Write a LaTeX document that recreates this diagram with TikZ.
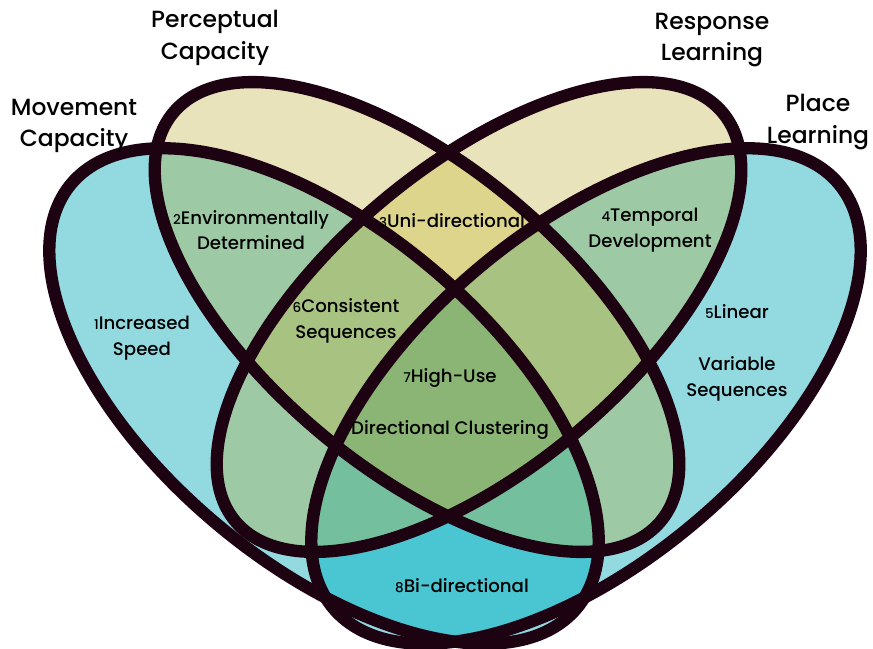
\documentclass[tikz,border=0pt]{standalone}
\usepackage{fontspec}
\setmainfont{Poppins}[UprightFont=* Medium]

\definecolor{edge}{HTML}{1D0212}
\definecolor{blueonly}{HTML}{93D9E0}
\definecolor{yellowonly}{HTML}{E8E3BB}
\definecolor{sage}{HTML}{9DCAA4}
\definecolor{uniyellow}{HTML}{DED58C}
\definecolor{consgreen}{HTML}{A8C282}
\definecolor{coregreen}{HTML}{8BB574}
\definecolor{bidir}{HTML}{4AC6D2}
\definecolor{tealgreen}{HTML}{74BF9D}

% the four ellipses (pixel units, y downwards)
\newcommand\ovalA[1][]{\path[#1,rotate around={-40:(324,396)}] (324,396) ellipse [x radius=330,y radius=167];}
\newcommand\ovalB[1][]{\path[#1,rotate around={-40:(417,317)}] (417,317) ellipse [x radius=318,y radius=151];}
\newcommand\ovalC[1][]{\path[#1,rotate around={40:(479,317)}] (479,317) ellipse [x radius=318,y radius=151];}
\newcommand\ovalD[1][]{\path[#1,rotate around={40:(586,396)}] (586,396) ellipse [x radius=330,y radius=167];}
\newcommand\rnum[1]{{\fontsize{11.5}{11.5}\selectfont #1}}

\begin{document}
\begin{tikzpicture}[x=0.03cm,y=-0.03cm,every text node part/.style={align=center},
    setname/.style={font=\fontsize{20}{27}\selectfont},
    zone/.style={font=\fontsize{15.5}{22}\selectfont}]
    \useasboundingbox (0,0) rectangle (873,649);

    % --------------------------------------------------------- %
    % ------------- single sets
    % --------------------------------------------------------- %
    \ovalA[fill=blueonly]
    \ovalD[fill=blueonly]
    \ovalB[fill=yellowonly]
    \ovalC[fill=yellowonly]

    % --------------------------------------------------------- %
    % ------------- pairs
    % --------------------------------------------------------- %
    \begin{scope} \ovalA[clip] \ovalB[fill=sage] \end{scope}
    \begin{scope} \ovalA[clip] \ovalC[fill=sage] \end{scope}
    \begin{scope} \ovalD[clip] \ovalB[fill=sage] \end{scope}
    \begin{scope} \ovalD[clip] \ovalC[fill=sage] \end{scope}
    \begin{scope} \ovalB[clip] \ovalC[fill=uniyellow] \end{scope}
    \begin{scope} \ovalA[clip] \ovalD[fill=bidir] \end{scope}

    % --------------------------------------------------------- %
    % ------------- triples and all four
    % --------------------------------------------------------- %
    \begin{scope} \ovalA[clip] \ovalB[clip] \ovalC[fill=consgreen] \end{scope}
    \begin{scope} \ovalB[clip] \ovalC[clip] \ovalD[fill=consgreen] \end{scope}
    \begin{scope} \ovalA[clip] \ovalB[clip] \ovalD[fill=tealgreen] \end{scope}
    \begin{scope} \ovalA[clip] \ovalC[clip] \ovalD[fill=tealgreen] \end{scope}
    \begin{scope} \ovalA[clip] \ovalB[clip] \ovalC[clip] \ovalD[fill=coregreen] \end{scope}

    % --------------------------------------------------------- %
    % ------------- outlines
    % --------------------------------------------------------- %
    \ovalA[draw=edge,line width=0.37cm]
    \ovalB[draw=edge,line width=0.37cm]
    \ovalC[draw=edge,line width=0.37cm]
    \ovalD[draw=edge,line width=0.37cm]

    % --------------------------------------------------------- %
    % ------------- set names
    % --------------------------------------------------------- %
    \node[setname] (movement) at (74,126) {Movement\\Capacity};
    \node[setname] (perceptual) at (215,38) {Perceptual\\Capacity};
    \node[setname] (response) at (712,40) {Response\\Learning};
    \node[setname] (place) at (818,122) {Place\\Learning};

    % --------------------------------------------------------- %
    % ------------- zone labels
    % --------------------------------------------------------- %
    \node[zone] (speed) at (142,338) {\rnum{1}Increased\\Speed};
    \node[zone] (envdet) at (251,230) {\rnum{2}Environmentally\\Determined};
    \node[zone] (unidir) at (452,221) {\rnum{3}Uni-directional};
    \node[zone] (temporal) at (650,230) {\rnum{4}Temporal\\Development};
    \node[zone] (linear) at (737,312) {\rnum{5}Linear};
    \node[zone] (variable) at (737,379) {Variable\\Sequences};
    \node[zone] (consist) at (346,321) {\rnum{6}Consistent\\Sequences};
    \node[zone] (highuse) at (450,378) {\rnum{7}High-Use};
    \node[zone] (cluster) at (450,430) {Directional Clustering};
    \node[zone] (bidirect) at (462,586) {\rnum{8}Bi-directional};

\end{tikzpicture}
\end{document}
